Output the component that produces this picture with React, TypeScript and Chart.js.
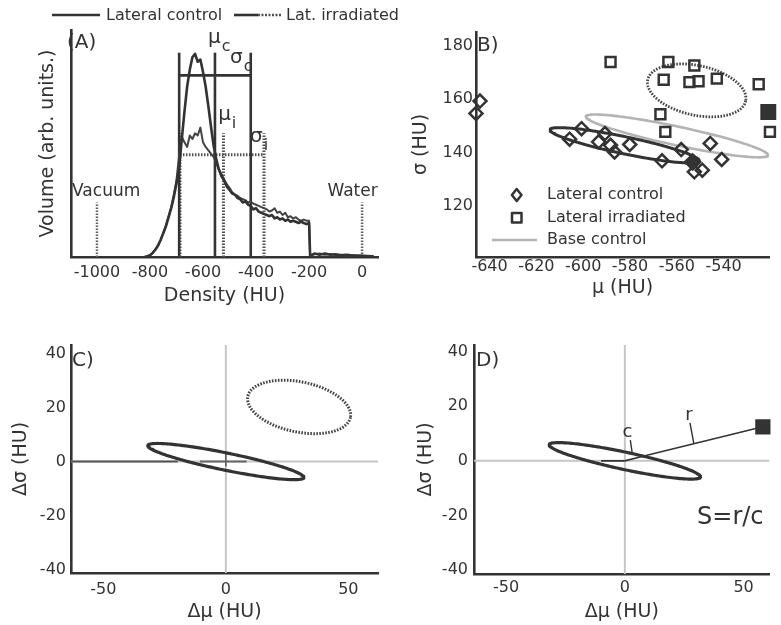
import React, { useEffect, useRef } from "react";
import { Chart, registerables } from "chart.js";
Chart.register(...registerables);

const FONT = "'DejaVu Sans', 'Liberation Sans', sans-serif";
const INK = "#333333";
const GRAY = "#b4b4b4";
const ZERO_GRAY = "#c6c6c6";

// ---------------- Panel A : density histograms ----------------
const DENSITY_TICKS = [-1000, -800, -600, -400, -200, 0];
const HIST_HU = [
  -820, -810, -800, -790, -780, -770, -760, -750, -740, -730, -720, -710, -700, -690, -680, -670,
  -660, -650, -640, -630, -620, -610, -600, -590, -580, -570, -560, -550, -540, -530, -520, -510,
  -500, -490, -480, -470, -460, -450, -440, -430, -420, -410, -400, -390, -380, -370, -360, -350,
  -340, -330, -320, -310, -300, -290, -280, -270, -260, -250, -240, -230, -220, -210, -200, -196,
  -180, -160, -140, -120, -100, -80, -60, -40, -20, 0, 20, 40,
];
const VOL_LATERAL_CONTROL = [
  0, 0.3, 0.8, 1.8, 3.2, 5, 7.5, 10.5, 13.5, 17.5, 21.5, 26.5, 32.5, 39.5, 52, 64,
  75, 82.5, 88, 89.5, 86, 87, 81.5, 75, 66.5, 57.5, 49, 43, 38.5, 35.5, 33.5, 31,
  29.5, 28, 27.5, 26, 25.5, 24, 24.5, 23, 22.5, 21, 21.5, 20, 19.5, 19, 18.5, 18,
  18.5, 17, 17.5, 16.5, 17, 16, 16.5, 15.5, 16, 15.5, 15, 15.5, 15, 14.5, 15, 0.5,
  1.5, 1, 1.5, 1, 1.2, 0.8, 1, 0.7, 0.6, 0.5, 0.4, 0.3,
];
const VOL_LATERAL_IRRADIATED = [
  0, 0.3, 0.8, 1.8, 3.2, 5, 7.5, 10.5, 14, 18, 22, 27.5, 34, 45, 53, 50.5,
  48.5, 53.5, 52, 54.5, 53.5, 57, 50.5, 48.5, 47, 45.5, 44, 41.5, 38.5, 36.5, 34, 32,
  30.5, 28.5, 27.5, 27, 26, 25.5, 25, 24, 24.5, 23.5, 23, 22.5, 22, 21.5, 21, 20,
  20.5, 21.5, 19.5, 20, 18.5, 19.5, 17.5, 18, 17, 17.5, 16.5, 16, 16.5, 16, 16, 0.5,
  1.2, 1.5, 1, 1.3, 0.9, 1, 0.7, 0.8, 0.5, 0.6, 0.3, 0.3,
];
const MU_C = -555;
const SIGMA_C = [-690, -420];
const C_MARK_TOP = 90;
const C_BAR = 80;
const MU_I = -523;
const SIGMA_I = [-687, -370];
const I_MARK_TOP = 54.5;
const I_BAR = 45;
const REF_DENSITIES = [-1000, 0];
const REF_LABELS = ["Vacuum", "Water"];
const REF_HEIGHT = 24;

// ---------------- Panel B : mu / sigma scatter ----------------
const MU_TICKS = [-640, -620, -600, -580, -560, -540];
const SIGMA_TICKS = [120, 140, 160, 180];
const LC_MU = [-644.1, -645.8, -605.8, -600.7, -593.4, -590.7, -588.3, -586.6, -580.1, -566.3, -558.1, -552.5, -549.1, -545.7, -540.8];
const LC_SIGMA = [159.2, 154.6, 145.0, 148.9, 144.0, 147.1, 142.7, 140.2, 143.0, 136.9, 141.1, 132.8, 133.4, 143.4, 137.4];
const LI_MU = [-588.3, -563.6, -552.5, -565.6, -554.6, -550.7, -542.9, -525.0, -567.0, -564.9, -520.2];
const LI_SIGMA = [173.8, 173.8, 172.5, 167.2, 166.3, 166.6, 167.6, 165.5, 154.3, 147.7, 147.7];
const LC_HIGHLIGHT = [-553.2, 136.5];
const LI_HIGHLIGHT = [-520.9, 155.1];
// ellipses: [centre mu, centre sigma, semi-major, semi-minor, angle deg]
const ELL_B_CONTROL = [-582.3, 142.7, 32.4, 3.2, -10.3];
const ELL_B_IRRAD = [-551.5, 163.2, 21.3, 9.3, -10];
const ELL_B_BASE = [-559.9, 146.2, 39.6, 3.5, -10.5];

// ---------------- Panels C, D : relative to control ----------------
const DMU_TICKS = [-50, 0, 50];
const DSIGMA_TICKS = [-40, -20, 0, 20, 40];
const ELL_REL_CONTROL = [0, 0, 32.4, 3.2, -10.5];
const ELL_REL_IRRAD = [29.9, 20.2, 21.3, 9.3, -10];
const SAMPLE_POINT = [58.1, 12.5];
const C_BOUNDARY = [7.6, 1.7];

function ellipsePoints(e: number[], n = 180) {
  const [cx, cy, a, b, deg] = e;
  const p = (deg * Math.PI) / 180;
  const pts: { x: number; y: number }[] = [];
  for (let i = 0; i <= n; i++) {
    const t = (2 * Math.PI * i) / n;
    pts.push({
      x: cx + a * Math.cos(t) * Math.cos(p) - b * Math.sin(t) * Math.sin(p),
      y: cy + a * Math.cos(t) * Math.sin(p) + b * Math.sin(t) * Math.cos(p),
    });
  }
  return pts;
}

const zip = (xs: number[], ys: number[]) => xs.map((x, i) => ({ x, y: ys[i] }));

const seg = (x1: number, y1: number, x2: number, y2: number, color: string, width: number, dash: number[] = [], order = 0) => ({
  data: [{ x: x1, y: y1 }, { x: x2, y: y2 }],
  showLine: true,
  borderColor: color,
  borderWidth: width,
  borderDash: dash,
  borderCapStyle: "butt",
  pointRadius: 0,
  fill: false,
  order,
});

const curve = (data: any[], color: string, width: number, dash: number[] = [], order = 0) => ({
  data,
  showLine: true,
  borderColor: color,
  borderWidth: width,
  borderDash: dash,
  borderJoinStyle: "round",
  borderCapStyle: dash.length ? "butt" : "round",
  pointRadius: 0,
  tension: 0,
  fill: false,
  order,
});

const markers = (data: any[], style: string, radius: number, fillColor: string, bw = 2.5) => ({
  data,
  showLine: false,
  pointStyle: style,
  pointRadius: radius,
  pointBorderColor: INK,
  pointBackgroundColor: fillColor,
  pointBorderWidth: bw,
  borderColor: INK,
  backgroundColor: fillColor,
  clip: false,
  order: -1,
});

type Box = { w: number; h: number; l: number; t: number; r: number; b: number };

function xScale(box: Box, min: number, max: number, ticks: number[], title: string, tickPad: number, titlePad: number, showTicks = true) {
  return {
    type: "linear",
    position: "bottom",
    min,
    max,
    afterFit: (s: any) => { s.height = box.h - box.b; },
    afterBuildTicks: (s: any) => { s.ticks = ticks.map((v) => ({ value: v })); },
    grid: { display: false, drawTicks: false },
    border: { display: true, color: INK, width: 2.6 },
    ticks: {
      display: showTicks,
      padding: tickPad,
      autoSkip: false,
      maxRotation: 0,
      minRotation: 0,
      color: INK,
      font: { family: FONT, size: 16 },
      callback: (v: any) => String(v),
    },
    title: { display: true, text: title, color: INK, font: { family: FONT, size: 19 }, padding: { top: 0, bottom: titlePad } },
  };
}

function yScale(box: Box, min: number, max: number, ticks: number[], title: string, tickPad: number, titlePad: number, showTicks = true) {
  return {
    type: "linear",
    position: "left",
    min,
    max,
    afterFit: (s: any) => { s.width = box.l; },
    afterBuildTicks: (s: any) => { s.ticks = ticks.map((v) => ({ value: v })); },
    grid: { display: false, drawTicks: false },
    border: { display: true, color: INK, width: 2.6 },
    ticks: {
      display: showTicks,
      padding: tickPad,
      autoSkip: false,
      color: INK,
      font: { family: FONT, size: 16 },
      callback: (v: any) => String(v),
    },
    title: { display: true, text: title, color: INK, font: { family: FONT, size: 19 }, padding: { top: titlePad, bottom: 0 } },
  };
}

function baseOptions(box: Box, xs: any, ys: any) {
  return {
    responsive: false,
    maintainAspectRatio: false,
    animation: false,
    devicePixelRatio: 1,
    events: [],
    layout: { padding: { left: 0, top: box.t, right: box.w - box.r, bottom: 0 } },
    plugins: { legend: { display: false }, tooltip: { enabled: false } },
    scales: { x: xs, y: ys },
  };
}

function text(ctx: CanvasRenderingContext2D, s: string, x: number, y: number, size: number, align: CanvasTextAlign = "left", color = INK) {
  ctx.save();
  ctx.font = `${size}px ${FONT}`;
  ctx.fillStyle = color;
  ctx.textAlign = align;
  ctx.textBaseline = "middle";
  ctx.fillText(s, x, y);
  ctx.restore();
}

function subLabel(ctx: CanvasRenderingContext2D, main: string, sub: string, x: number, y: number) {
  ctx.save();
  ctx.font = `20px ${FONT}`;
  const w = ctx.measureText(main).width;
  ctx.restore();
  text(ctx, main, x, y, 20);
  text(ctx, sub, x + w + 1, y + 9, 16);
}

function line(ctx: CanvasRenderingContext2D, x1: number, y1: number, x2: number, y2: number, color: string, width: number, dash: number[] = []) {
  ctx.save();
  ctx.strokeStyle = color;
  ctx.lineWidth = width;
  ctx.setLineDash(dash);
  ctx.beginPath();
  ctx.moveTo(x1, y1);
  ctx.lineTo(x2, y2);
  ctx.stroke();
  ctx.restore();
}

// ---------------- configs ----------------
const BOX_A: Box = { w: 430, h: 310, l: 71, t: 30, r: 378, b: 257 };
const BOX_B: Box = { w: 391, h: 310, l: 86, t: 32, r: 389, b: 257 };
const BOX_C: Box = { w: 390, h: 315, l: 71, t: 35, r: 378, b: 263 };
const BOX_D: Box = { w: 391, h: 315, l: 84, t: 35, r: 390, b: 264 };

function configA() {
  const datasets = [
    curve(zip(HIST_HU, VOL_LATERAL_CONTROL), INK, 2.6),
    curve(zip(HIST_HU, VOL_LATERAL_IRRADIATED), "#444", 2),
    seg(SIGMA_C[0], 0, SIGMA_C[0], C_MARK_TOP, INK, 2.6),
    seg(MU_C, 0, MU_C, C_MARK_TOP, INK, 2.6),
    seg(SIGMA_C[1], 0, SIGMA_C[1], C_MARK_TOP, INK, 2.6),
    seg(SIGMA_C[0], C_BAR, SIGMA_C[1], C_BAR, INK, 2.6),
    seg(SIGMA_I[0], 0, SIGMA_I[0], I_MARK_TOP, "#505050", 3, [1.5, 1.5]),
    seg(MU_I, 0, MU_I, I_MARK_TOP, "#505050", 3, [1.5, 1.5]),
    seg(SIGMA_I[1], 0, SIGMA_I[1], I_MARK_TOP, "#505050", 3, [1.5, 1.5]),
    seg(SIGMA_I[0], I_BAR, SIGMA_I[1], I_BAR, "#505050", 3, [1.5, 1.5]),
    ...REF_DENSITIES.map((d) => seg(d, 0, d, REF_HEIGHT, "#606060", 2.5, [1.5, 1.5])),
  ];
  const opts: any = baseOptions(
    BOX_A,
    xScale(BOX_A, -1098, 60, DENSITY_TICKS, "Density (HU)", 6, 3),
    yScale(BOX_A, 0, 100, [], "Volume (arb. units.)", 0, 37, false)
  );
  const plugin = {
    id: "annotA",
    afterDraw(chart: any) {
      const { ctx, chartArea: ca } = chart;
      const X = (v: number) => chart.scales.x.getPixelForValue(v);
      const Y = (v: number) => chart.scales.y.getPixelForValue(v);
      // legend
      line(ctx, 52, 15, 100, 15, INK, 2.6);
      text(ctx, "Lateral control", 106, 16, 16);
      line(ctx, 234, 15, 258, 15, INK, 2.6);
      line(ctx, 258, 15, 282, 15, "#505050", 2.6, [2, 1.5]);
      text(ctx, "Lat. irradiated", 286, 16, 16);
      // panel label
      text(ctx, "(A)", ca.left - 4, ca.top + 12.5, 20);
      // stat labels
      subLabel(ctx, "μ", "c", X(-581), Y(96.5));
      subLabel(ctx, "σ", "c", X(-498), Y(87.7));
      subLabel(ctx, "μ", "i", X(-543), Y(62.5));
      subLabel(ctx, "σ", "i", X(-423), Y(52.9));
      text(ctx, REF_LABELS[0], X(-1094), Y(28.6), 17, "left");
      text(ctx, REF_LABELS[1], X(59), Y(28.6), 17, "right");
    },
  };
  return { type: "scatter", data: { datasets }, options: opts, plugins: [plugin] };
}

function configB() {
  const datasets = [
    markers([{ x: LC_HIGHLIGHT[0], y: LC_HIGHLIGHT[1] }], "rectRot", 7.5, INK),
    markers([{ x: LI_HIGHLIGHT[0], y: LI_HIGHLIGHT[1] }], "rect", 9.5, INK),
    markers(zip(LC_MU, LC_SIGMA), "rectRot", 6.5, "rgba(255,255,255,0)"),
    markers(zip(LI_MU, LI_SIGMA), "rect", 7, "rgba(255,255,255,0)"),
    curve(ellipsePoints(ELL_B_CONTROL), INK, 3),
    curve(ellipsePoints(ELL_B_IRRAD), "#444", 2.8, [1.6, 1.4]),
    curve(ellipsePoints(ELL_B_BASE), GRAY, 2.6, [], 5),
  ];
  const opts: any = baseOptions(
    BOX_B,
    xScale(BOX_B, -645.8, -520.6, MU_TICKS, "μ (HU)", 0, 11),
    yScale(BOX_B, 101, 185, SIGMA_TICKS, "σ (HU)", 3, 20)
  );
  const plugin = {
    id: "annotB",
    afterDraw(chart: any) {
      const { ctx, chartArea: ca } = chart;
      text(ctx, "B)", ca.left + 1, ca.top + 13.5, 20);
      // legend
      ctx.save();
      ctx.strokeStyle = INK;
      ctx.lineWidth = 2.5;
      ctx.lineJoin = "round";
      ctx.beginPath();
      ctx.moveTo(126.7, 189);
      ctx.lineTo(131.5, 195);
      ctx.lineTo(126.7, 201);
      ctx.lineTo(121.9, 195);
      ctx.closePath();
      ctx.stroke();
      ctx.strokeRect(122, 213, 9.5, 9.5);
      ctx.restore();
      line(ctx, 102, 240, 147, 240, GRAY, 2.6);
      text(ctx, "Lateral control", 157, 195, 16);
      text(ctx, "Lateral irradiated", 157, 217.5, 16);
      text(ctx, "Base control", 157, 239.5, 16);
    },
  };
  return { type: "scatter", data: { datasets }, options: opts, plugins: [plugin] };
}

function configC() {
  const datasets = [
    curve(ellipsePoints(ELL_REL_CONTROL), INK, 3.2),
    curve(ellipsePoints(ELL_REL_IRRAD), "#444", 3, [1.6, 1.4]),
    seg(-63.2, 0, -19.6, 0, "#555", 2, [], 2),
    seg(-10.6, 0, 8.5, 0, "#666", 2, [], 2),
    seg(0, -1.8, 0, 3.7, "#555", 1.5, [], 2),
    seg(0, -41.2, 0, 43.1, ZERO_GRAY, 2, [], 10),
    seg(-63.2, 0, 62.1, 0, ZERO_GRAY, 2, [], 10),
  ];
  const opts: any = baseOptions(
    BOX_C,
    xScale(BOX_C, -63.2, 62.1, DMU_TICKS, "Δμ (HU)", 7, 2),
    yScale(BOX_C, -41.2, 43.1, DSIGMA_TICKS, "Δσ (HU)", 5, 10)
  );
  const plugin = {
    id: "annotC",
    afterDraw(chart: any) {
      const { ctx, chartArea: ca } = chart;
      text(ctx, "C)", ca.left + 1, ca.top + 15.5, 20);
    },
  };
  return { type: "scatter", data: { datasets }, options: opts, plugins: [plugin] };
}

function configD() {
  const datasets = [
    markers([{ x: SAMPLE_POINT[0], y: SAMPLE_POINT[1] }], "rect", 9, INK),
    seg(C_BOUNDARY[0], C_BOUNDARY[1], SAMPLE_POINT[0], SAMPLE_POINT[1], INK, 1.6),
    seg(0, 0, C_BOUNDARY[0], C_BOUNDARY[1], INK, 1.6),
    seg(-10, 0, 0, 0, INK, 1.6),
    seg(27.4, 13.9, 29, 6.5, INK, 1.4),
    seg(2.3, 7.6, 3.1, 2.9, INK, 1.4),
    curve(ellipsePoints(ELL_REL_CONTROL), INK, 3.2),
    seg(0, -41.5, 0, 42.5, ZERO_GRAY, 2, [], 10),
    seg(-63.5, 0, 60.9, 0, ZERO_GRAY, 2, [], 10),
  ];
  const opts: any = baseOptions(
    BOX_D,
    xScale(BOX_D, -63.5, 60.9, DMU_TICKS, "Δμ (HU)", 4, 2),
    yScale(BOX_D, -41.5, 42.5, DSIGMA_TICKS, "Δσ (HU)", 6, 25)
  );
  const plugin = {
    id: "annotD",
    afterDraw(chart: any) {
      const { ctx, chartArea: ca } = chart;
      const X = (v: number) => chart.scales.x.getPixelForValue(v);
      const Y = (v: number) => chart.scales.y.getPixelForValue(v);
      text(ctx, "D)", ca.left + 2, ca.top + 16, 20);
      text(ctx, "c", X(1.1), Y(10.5), 18, "center");
      text(ctx, "r", X(27), Y(16.6), 18, "center");
      text(ctx, "S=r/c", X(30.4), Y(-21), 24, "left");
    },
  };
  return { type: "scatter", data: { datasets }, options: opts, plugins: [plugin] };
}

function Panel({ left, top, box, make }: { left: number; top: number; box: Box; make: () => any }) {
  const ref = useRef<HTMLCanvasElement>(null);
  useEffect(() => {
    const chart = new Chart(ref.current as HTMLCanvasElement, make());
    return () => chart.destroy();
  }, []);
  return (
    <canvas
      ref={ref}
      width={box.w}
      height={box.h}
      style={{ position: "absolute", left, top, width: box.w, height: box.h }}
    />
  );
}

export default function App() {
  return (
    <div style={{ position: "absolute", left: 0, top: 0, width: 781, height: 625, overflow: "hidden", background: "#fff" }}>
      <Panel left={0} top={0} box={BOX_A} make={configA} />
      <Panel left={390} top={0} box={BOX_B} make={configB} />
      <Panel left={0} top={310} box={BOX_C} make={configC} />
      <Panel left={390} top={310} box={BOX_D} make={configD} />
    </div>
  );
}
